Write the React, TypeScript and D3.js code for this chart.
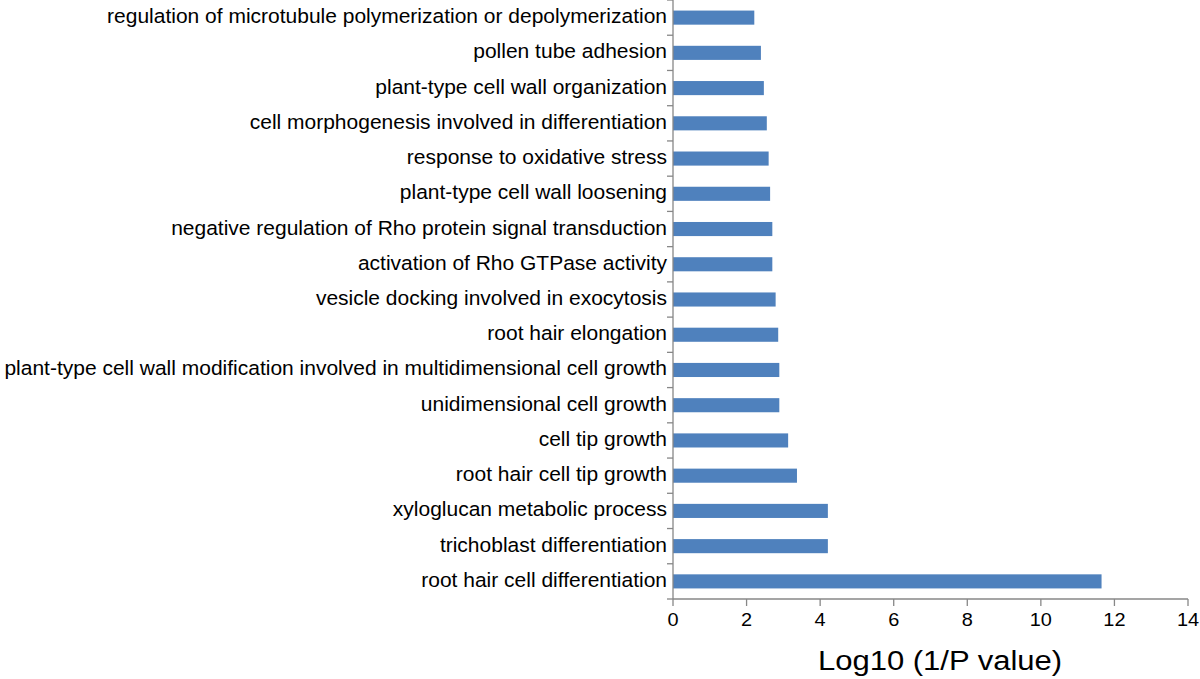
import React from "react";
import * as d3 from "d3";

const categories = [
  "regulation of microtubule polymerization or depolymerization",
  "pollen tube adhesion",
  "plant-type cell wall organization",
  "cell morphogenesis involved in differentiation",
  "response to oxidative stress",
  "plant-type cell wall loosening",
  "negative regulation of Rho protein signal transduction",
  "activation of Rho GTPase activity",
  "vesicle docking involved in exocytosis",
  "root hair elongation",
  "plant-type cell wall modification involved in multidimensional cell growth",
  "unidimensional cell growth",
  "cell tip growth",
  "root hair cell tip growth",
  "xyloglucan metabolic process",
  "trichoblast differentiation",
  "root hair cell differentiation",
];
const values = [2.21, 2.39, 2.47, 2.55, 2.6, 2.64, 2.7, 2.7, 2.79, 2.86, 2.89, 2.89, 3.13, 3.37, 4.21, 4.21, 11.65];
const xTicks = [0, 2, 4, 6, 8, 10, 12, 14];
const xTitle = "Log10 (1/P value)";

export default function App() {
  const W = 1200, H = 679;
  const x = d3.scaleLinear().domain([0, 14]).range([673, 1188]);
  const y = d3.scaleBand<string>().domain(categories).range([0, 599]).padding(0);
  const bw = y.bandwidth();
  const barH = bw / 2.5;
  const axisColor = "#878787";
  const font = "'Liberation Sans', Arial, Helvetica, sans-serif";
  const edges = d3.range(categories.length + 1).map((i) => i * bw);
  return (
    <svg width={W} height={H} style={{ position: "absolute", left: 0, top: 0, background: "#fff" }} fontFamily={font}>
      <rect width={W} height={H} fill="#fff" />
      {categories.map((c, i) => (
        <rect key={c} x={x(0)} y={(y(c) as number) + (bw - barH) / 2} width={x(values[i]) - x(0)} height={barH} fill="#4F81BD" />
      ))}
      {categories.map((c) => (
        <text
          key={c}
          transform={`translate(667,${(y(c) as number) + bw / 2 + 5.5}) scale(1.077,1)`}
          textAnchor="end"
          fontSize={19.5}
          fill="#000"
        >
          {c}
        </text>
      ))}
      <line x1={x(0)} x2={x(0)} y1={0} y2={599} stroke={axisColor} strokeWidth={1.3} />
      {edges.map((e, i) => (
        <line key={i} x1={x(0) - 6} x2={x(0)} y1={e} y2={e} stroke={axisColor} strokeWidth={1.3} />
      ))}
      <line x1={x(0)} x2={x(14)} y1={599} y2={599} stroke={axisColor} strokeWidth={1.3} />
      {xTicks.map((t) => (
        <g key={t}>
          <line x1={x(t)} x2={x(t)} y1={599} y2={606} stroke={axisColor} strokeWidth={1.3} />
          <text transform={`translate(${x(t)},625.5) scale(1.06,1)`} textAnchor="middle" fontSize={18.8} fill="#000">
            {t}
          </text>
        </g>
      ))}
      <text transform="translate(940,669.5) scale(1.1,1)" textAnchor="middle" fontSize={28.2} fill="#000">
        {xTitle}
      </text>
    </svg>
  );
}
